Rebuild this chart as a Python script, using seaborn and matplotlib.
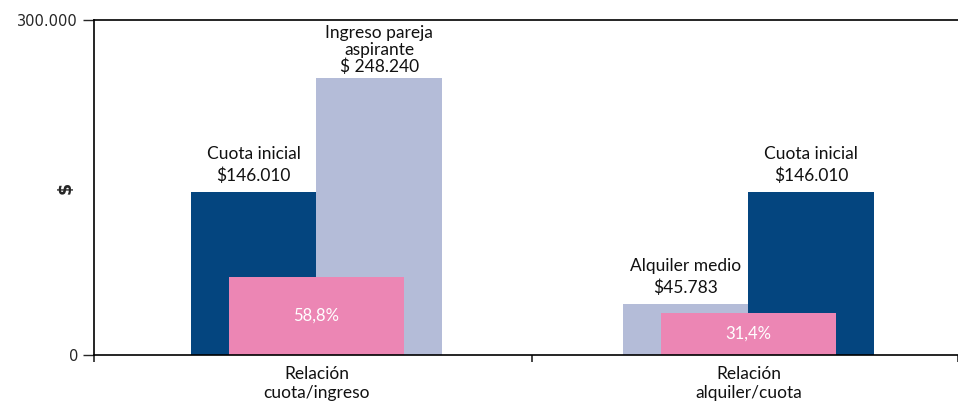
import pandas as pd
import matplotlib.pyplot as plt
import matplotlib.ticker as mticker
import seaborn as sns

# datos del grafico
relaciones = ["Relación\ncuota/ingreso", "Relación\nalquiler/cuota"]
barra_izq = [146010, 45783]
barra_der = [248240, 146010]
serie_izq = ["Cuota inicial", "Alquiler medio"]
serie_der = ["Ingreso pareja aspirante", "Cuota inicial"]
texto_izq = ["Cuota inicial\n$146.010", "Alquiler medio\n$45.783"]
texto_der = ["Ingreso pareja\naspirante\n$ 248.240", "Cuota inicial\n$146.010"]
relacion_altura = [70000, 37600]
relacion_texto = ["58,8%", "31,4%"]

colores = {"Cuota inicial": "#04457f", "Alquiler medio": "#b4bcd8",
           "Ingreso pareja aspirante": "#b4bcd8"}
rosa = "#ec86b4"
fuente = ["Lato", "DejaVu Sans"]

sns.set_style("white")
plt.rcParams["font.family"] = ["DejaVu Sans"]

df = pd.DataFrame({
    "relacion": relaciones * 2,
    "valor": barra_izq + barra_der,
    "lado": ["izq"] * 2 + ["der"] * 2,
})
df_rel = pd.DataFrame({"relacion": relaciones, "valor": relacion_altura})

fig = plt.figure(figsize=(9.58, 4.05), dpi=100)
ax = fig.add_axes([94 / 958, 50 / 405, 864 / 958, 335 / 405])

sns.barplot(data=df, x="relacion", y="valor", hue="lado", hue_order=["izq", "der"],
            dodge=True, width=0.58, errorbar=None, legend=False, ax=ax)

# recolorear segun la serie y poner las etiquetas encima
for cont, series, textos in zip(ax.containers, [serie_izq, serie_der], [texto_izq, texto_der]):
    for patch, s, t in zip(cont.patches, series, textos):
        patch.set_facecolor(colores[s])
        patch.set_edgecolor("none")
        tres_lineas = t.count("\n") > 1
        ax.annotate(t, (patch.get_x() + patch.get_width() / 2, patch.get_height()),
                    xytext=(0, 2 if tres_lineas else 6), textcoords="offset points",
                    ha="center", va="bottom", fontsize=12.5, family=fuente,
                    linespacing=1.05 if tres_lineas else 1.35, color="#111111")

n_prev = len(ax.patches)
sns.barplot(data=df_rel, x="relacion", y="valor", color=rosa, width=0.405,
            errorbar=None, ax=ax, saturation=1)
for patch, t in zip(ax.patches[n_prev:], relacion_texto):
    patch.set_edgecolor("none")
    ax.text(patch.get_x() + patch.get_width() / 2, patch.get_height() / 2, t,
            ha="center", va="center", fontsize=12, color="white", family=fuente)

x0, x1 = -0.515, 1.485
ax.set_xlim(x0, x1)
ax.set_ylim(0, 300000)
ax.set_yticks([0, 300000])
ax.yaxis.set_major_formatter(mticker.FuncFormatter(lambda v, p: f"{v:,.0f}".replace(",", ".")))
ax.set_xticks([x0, 0.5, x1], minor=True)
ax.tick_params(axis="x", which="major", length=0, pad=8)
ax.tick_params(axis="x", which="minor", length=5, width=1.2, direction="out", bottom=True)
ax.tick_params(axis="y", length=8, width=1, direction="out", left=True, labelsize=10.5)
for lbl in ax.get_xticklabels():
    lbl.set_fontfamily(fuente)
    lbl.set_fontsize(12.5)
    lbl.set_linespacing(1.25)
    lbl.set_color("#111111")

ax.set_xlabel("")
ax.set_ylabel("$", fontsize=12.5, fontweight="bold")
ax.yaxis.set_label_coords(-0.023, 0.5)

ax.spines["right"].set_visible(False)
for side in ["left", "bottom", "top"]:
    ax.spines[side].set_color("black")
    ax.spines[side].set_linewidth(1.2)

fig.savefig("out.png", dpi=100)
